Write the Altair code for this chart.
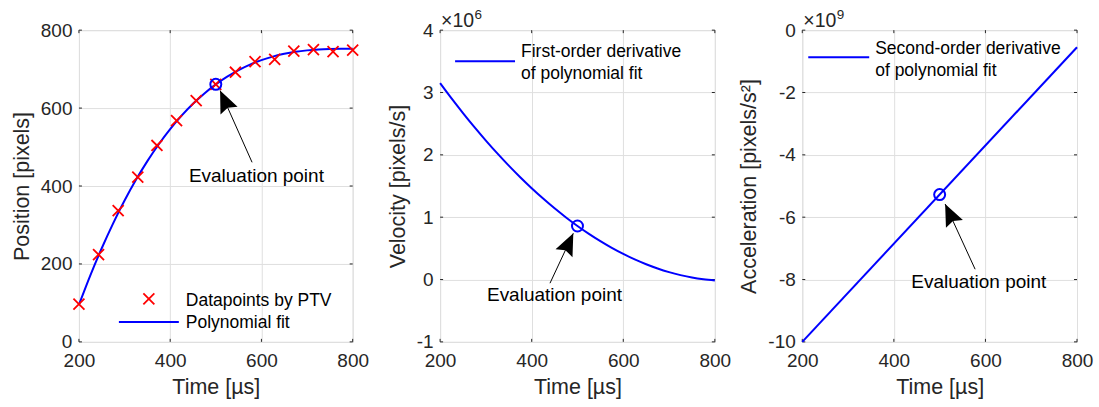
import altair as alt
import pandas as pd

# ---------------- data ----------------
time_points = [200, 243, 286, 329, 371, 414, 457, 500, 543, 586, 629, 671, 714, 757, 800]
position_points = [97, 224, 337, 423, 504, 568, 619, 661, 692, 719, 725, 746, 750, 745, 749]

time_curve = [200, 225, 250, 275, 300, 325, 350, 375, 400, 425, 450, 475, 500,
              525, 550, 575, 600, 625, 650, 675, 700, 725, 750, 775, 800]
position_fit = [95.0, 170.7, 240.3, 304.2, 362.6, 415.8, 463.9, 507.2, 546.0, 580.5,
                611.0, 637.7, 660.9, 680.7, 697.6, 711.6, 723.0, 732.1, 739.2, 744.5,
                748.1, 750.5, 751.7, 752.2, 752.0]
velocity_fit = [3.150, 2.905, 2.670, 2.444, 2.229, 2.023, 1.827, 1.641, 1.465, 1.299,
                1.142, 0.996, 0.859, 0.732, 0.615, 0.507, 0.410, 0.322, 0.245, 0.177,
                0.119, 0.071, 0.032, 0.004, -0.015]
accel_time = [200, 800]
accel_fit = [-10.0, -0.55]

eval_time = [500]
eval_position = [660.9]
eval_velocity = [0.859]
eval_accel = [-5.275]

x_ticks = [200, 400, 600, 800]
pos_ticks = [0, 200, 400, 600, 800]
vel_ticks = [-1, 0, 1, 2, 3, 4]
acc_ticks = [-10, -8, -6, -4, -2, 0]

# annotation arrows: tail (x, y) -> tip (x2, y2), label position
arrow1 = {"x": [579.5], "y": [460.8], "x2": [509.4], "y2": [644.9], "tx": [589], "ty": [411]}
arrow2 = {"x": [440.0], "y": [-0.059], "x2": [490.9], "y2": [0.742], "tx": [449.8], "ty": [-0.343]}
arrow3 = {"x": [577.5], "y": [-7.67], "x2": [512.0], "y2": [-5.577], "tx": [585.5], "ty": [-8.28]}
annotation_text = "Evaluation point"

legend1 = ["Datapoints by PTV\nPolynomial fit"]
legend2 = ["First-order derivative\nof polynomial fit"]
legend3 = ["Second-order derivative\nof polynomial fit"]

# ---------------- style ----------------
FONT = "Liberation Sans"
AX = "#262626"
GRID = "#dfdfdf"
BLUE = "#0000ff"
RED = "#ff0000"
XSHAPE = "M-1,-1L1,1M1,-1L-1,1"
HEAD = "M0,0L0.85,2L0,1.7L-0.85,2Z"
H = 312


def x_axis():
    return alt.Axis(title="Time [µs]", values=x_ticks, grid=True, gridColor=GRID,
                    gridWidth=1, domain=False, ticks=False, tickSize=0,
                    labelPadding=10, labelFontSize=19, labelFont=FONT, labelColor=AX,
                    labelFlush=False, labelOverlap=False,
                    titleFont=FONT, titleFontSize=21.5, titleFontWeight="normal",
                    titleColor=AX, titlePadding=6)


def y_axis(title, ticks):
    return alt.Axis(title=title, values=ticks, grid=True, gridColor=GRID,
                    gridWidth=1, domain=False, ticks=False, tickSize=0,
                    labelPadding=7, labelFontSize=19, labelFont=FONT, labelColor=AX,
                    labelFlush=False, labelOverlap=False,
                    labelExpr="'' + datum.value",
                    titleFont=FONT, titleFontSize=21.5, titleFontWeight="normal",
                    titleColor=AX, titlePadding=7)


def panel(width, ydom, yticks, ytitle, data_layers_fn, arrow, head_angle,
          legend_lines, exponent=None):
    xs = alt.Scale(domain=[200, 800], nice=False, zero=False)
    ys = alt.Scale(domain=ydom, nice=False, zero=False)
    xa = x_axis()
    ya = y_axis(ytitle, yticks)

    def X(f):
        return alt.X(f"{f}:Q", scale=xs, axis=xa)

    def Y(f):
        return alt.Y(f"{f}:Q", scale=ys, axis=ya)

    layers = []
    # inward ticks (box on all four sides)
    xt = pd.DataFrame({"t": x_ticks})
    yt = pd.DataFrame({"v": yticks})
    layers.append(alt.Chart(xt).mark_rule(color=AX, strokeWidth=1).encode(
        x=X("t"), y=alt.value(H), y2=alt.value(H - 3)))
    layers.append(alt.Chart(xt).mark_rule(color=AX, strokeWidth=1).encode(
        x=X("t"), y=alt.value(0), y2=alt.value(3)))
    layers.append(alt.Chart(yt).mark_rule(color=AX, strokeWidth=1).encode(
        y=Y("v"), x=alt.value(0), x2=alt.value(3)))
    layers.append(alt.Chart(yt).mark_rule(color=AX, strokeWidth=1).encode(
        y=Y("v"), x=alt.value(width - 3), x2=alt.value(width)))

    layers += data_layers_fn(X, Y)

    adf = pd.DataFrame(arrow)
    layers.append(alt.Chart(adf).mark_rule(color="black", strokeWidth=1).encode(
        x=X("x"), y=Y("y"), x2="x2:Q", y2="y2:Q"))
    layers.append(alt.Chart(adf).mark_point(shape=HEAD, filled=True, color="black",
                                            opacity=1, size=484, angle=head_angle,
                                            strokeWidth=0).encode(x=X("x2"), y=Y("y2")))
    layers.append(alt.Chart(adf.assign(label=annotation_text)).mark_text(
        font=FONT, fontSize=19, color="black", align="center", baseline="alphabetic"
    ).encode(x=X("tx"), y=Y("ty"), text="label:N"))

    layers += legend_lines
    if exponent is not None:
        layers += exponent
    return alt.layer(*layers).properties(width=width, height=H)


# ---------- panel 1: position ----------
def layers1(X, Y):
    pts = pd.DataFrame({"t": time_points, "p": position_points})
    fit = pd.DataFrame({"t": time_curve, "p": position_fit})
    ev = pd.DataFrame({"t": eval_time, "p": eval_position})
    return [
        alt.Chart(fit).mark_line(color=BLUE, strokeWidth=2, interpolate="monotone").encode(
            x=X("t"), y=Y("p")),
        alt.Chart(pts).mark_point(shape=XSHAPE, filled=False, color=RED, opacity=1,
                                  size=121, strokeWidth=1.8).encode(x=X("t"), y=Y("p")),
        alt.Chart(ev).mark_point(shape="circle", filled=False, color=BLUE, opacity=1,
                                 size=121, strokeWidth=2).encode(x=X("t"), y=Y("p")),
    ]


lg1 = pd.DataFrame({"label": legend1})
legend_p1 = [
    alt.Chart(lg1).mark_point(shape=XSHAPE, filled=False, color=RED, opacity=1,
                              size=121, strokeWidth=1.8).encode(
        x=alt.value(70), y=alt.value(269)),
    alt.Chart(lg1).mark_rule(color=BLUE, strokeWidth=2).encode(
        x=alt.value(40), x2=alt.value(100), y=alt.value(292)),
    alt.Chart(lg1).mark_text(font=FONT, fontSize=17.5, color="black", align="left",
                             baseline="alphabetic", lineBreak="\n", lineHeight=22.3).encode(
        x=alt.value(107), y=alt.value(276), text="label:N"),
]

p1 = panel(274, [0, 800], pos_ticks, "Position [pixels]", layers1, arrow1, 336,
           legend_p1)


# ---------- panel 2: velocity ----------
def layers2(X, Y):
    fit = pd.DataFrame({"t": time_curve, "v": velocity_fit})
    ev = pd.DataFrame({"t": eval_time, "v": eval_velocity})
    return [
        alt.Chart(fit).mark_line(color=BLUE, strokeWidth=2, interpolate="monotone").encode(
            x=X("t"), y=Y("v")),
        alt.Chart(ev).mark_point(shape="circle", filled=False, color=BLUE, opacity=1,
                                 size=121, strokeWidth=2).encode(x=X("t"), y=Y("v")),
    ]


def legend_block(lines, line_x, line_y, text_x, text_y):
    df = pd.DataFrame({"label": lines})
    return [
        alt.Chart(df).mark_rule(color=BLUE, strokeWidth=2).encode(
            x=alt.value(line_x[0]), x2=alt.value(line_x[1]), y=alt.value(line_y)),
        alt.Chart(df).mark_text(font=FONT, fontSize=17.5, color="black", align="left",
                                baseline="alphabetic", lineBreak="\n", lineHeight=22).encode(
            x=alt.value(text_x), y=alt.value(text_y), text="label:N"),
    ]


def exponent_block(power):
    df = pd.DataFrame({"base": ["×10"], "power": [power]})
    return [
        alt.Chart(df).mark_text(font=FONT, fontSize=19.5, color=AX, align="left",
                                baseline="alphabetic").encode(
            x=alt.value(1), y=alt.value(-3.3), text="base:N"),
        alt.Chart(df).mark_text(font=FONT, fontSize=13.5, color=AX, align="left",
                                baseline="alphabetic").encode(
            x=alt.value(34.5), y=alt.value(-10.7), text="power:N"),
    ]


p2 = panel(275, [-1, 4], vel_ticks, "Velocity [pixels/s]", layers2, arrow2, 25,
           legend_block(legend2, (15, 75), 31, 81, 27.3), exponent_block("6"))


# ---------- panel 3: acceleration ----------
def layers3(X, Y):
    fit = pd.DataFrame({"t": accel_time, "a": accel_fit})
    ev = pd.DataFrame({"t": eval_time, "a": eval_accel})
    return [
        alt.Chart(fit).mark_line(color=BLUE, strokeWidth=2).encode(x=X("t"), y=Y("a")),
        alt.Chart(ev).mark_point(shape="circle", filled=False, color=BLUE, opacity=1,
                                 size=121, strokeWidth=2).encode(x=X("t"), y=Y("a")),
    ]


p3 = panel(275, [-10, 0], acc_ticks, "Acceleration [pixels/s²]", layers3, arrow3, 335,
           legend_block(legend3, (6, 67), 27, 73, 24.3), exponent_block("9"))

chart = alt.hconcat(p1, p2, p3, spacing=87.5, bounds="flush").properties(
    padding={"left": 10, "top": 7, "right": 5, "bottom": 0},
    background="white",
).configure_view(stroke=AX, strokeWidth=1).configure(font=FONT)

chart.save("out.html", embed_options={"renderer": "svg", "actions": False})
